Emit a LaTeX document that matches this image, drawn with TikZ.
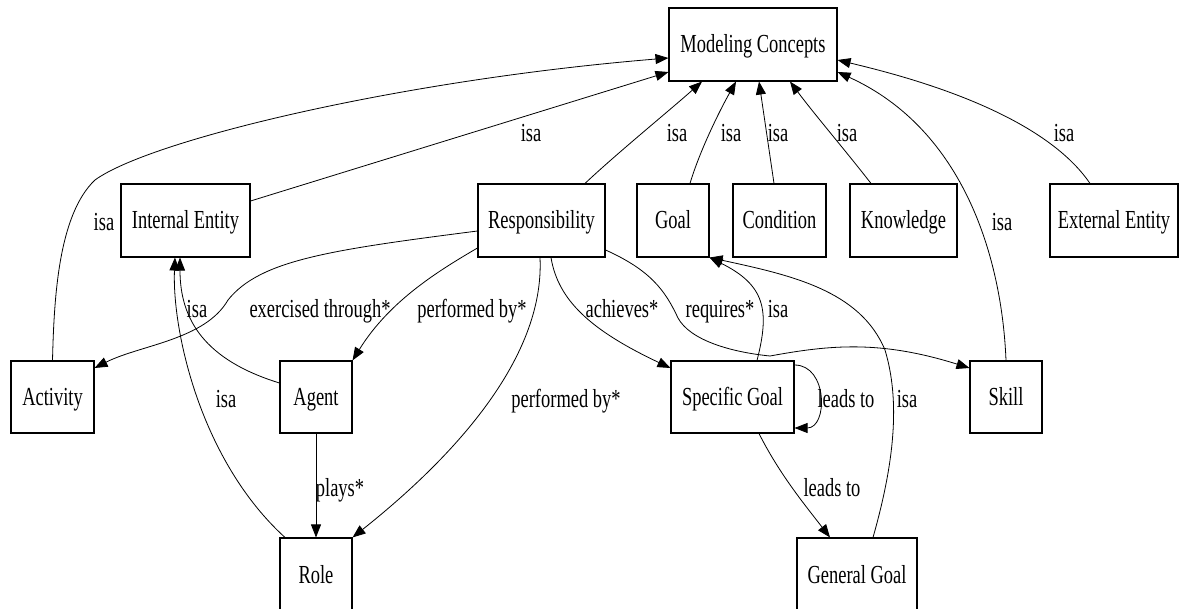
\documentclass[tikz,border=0pt]{standalone}
\usepackage{fontspec}
\setmainfont{Liberation Serif}[FakeStretch=0.71]
\usetikzlibrary{arrows.meta}

\begin{document}
\begin{tikzpicture}[x=1pt,y=-1pt,
  concept/.style={draw, line width=1.1pt, rectangle, inner sep=0pt,
    minimum height=73pt, text height=20pt, text depth=3pt,
    font=\fontsize{26}{28}\selectfont},
  lbl/.style={anchor=base, inner sep=0pt, font=\fontsize{26}{28}\selectfont},
  rel/.style={line width=0.8pt, -{Triangle[length=13pt,width=10pt]}},
]
\useasboundingbox (0,0) rectangle (1183,609);
\fill[white] (0,0) rectangle (1183,609);

% concepts
\node[concept, minimum width=168pt] (mc)    at (753,44.5)   {Modeling Concepts};
\node[concept, minimum width=129pt] (ie)    at (185.5,220.5) {Internal Entity};
\node[concept, minimum width=127pt] (resp)  at (541.5,220.5) {Responsibility};
\node[concept, minimum width=72pt]  (goal)  at (673,220.5)   {Goal};
\node[concept, minimum width=93pt]  (cond)  at (779.5,220.5) {Condition};
\node[concept, minimum width=107pt] (know)  at (903.5,220.5) {Knowledge};
\node[concept, minimum width=128pt] (ee)    at (1114,220.5)  {External Entity};
\node[concept, minimum width=83pt, minimum height=72pt] (act) at (52.5,397) {Activity};
\node[concept, minimum width=72pt, minimum height=72pt]  (agent) at (316,397) {Agent};
\node[concept, minimum width=123pt, minimum height=72pt] (sg) at (732.5,397) {Specific Goal};
\node[concept, minimum width=72pt, minimum height=72pt]  (skill) at (1006,397) {Skill};
\node[concept, minimum width=72pt]  (role)  at (316,574.5)   {Role};
\node[concept, minimum width=120pt] (gg)    at (857,574.5)   {General Goal};

% isa links to Modeling Concepts
\draw[rel] (act.north) .. controls (54,300) and (58,215) .. (95,180)
           .. controls (150,140) and (400,80) .. (mc.west |- 0,58);
\draw[rel] (ie.east |- 0,201) -- (mc.west |- 0,72);
\draw[rel] (resp.north -| 585,0) .. controls (615,155) and (670,110) .. (mc.south -| 702,0);
\draw[rel] (goal.north -| 690,0) .. controls (700,150) and (720,110) .. (mc.south -| 736,0);
\draw[rel] (cond.north -| 774,0) -- (mc.south -| 759,0);
\draw[rel] (know.north -| 871,0) .. controls (845,150) and (815,115) .. (mc.south -| 790,0);
\draw[rel] (ee.north -| 1090,0) .. controls (1040,110) and (900,75) .. (mc.east |- 0,60);
\draw[rel] (skill.north) .. controls (1002,260) and (965,130) .. (mc.east |- 0,72);

% isa links to Internal Entity
\draw[rel] (agent.west |- 0,383) .. controls (205,360) and (180,320) .. (ie.south -| 180,0);
\draw[rel] (role.north -| 285,0) .. controls (200,460) and (172,330) .. (ie.south -| 175,0);

% responsibility relations
\draw[rel] (resp.west |- 0,231) .. controls (330,250) and (260,260) .. (228,300)
           .. controls (205,340) and (140,345) .. (act.east |- 0,368);
\draw[rel] (resp.west |- 0,248) .. controls (440,270) and (390,300) .. (agent.north east);
\draw[rel] (resp.south -| 540,0) .. controls (545,360) and (450,460) .. (role.north east);
\draw[rel] (resp.south -| 551,0) .. controls (558,300) and (590,330) .. (sg.west |- 0,368);
\draw[rel] (resp.east |- 0,250) .. controls (650,270) and (665,290) .. (678,318)
           .. controls (690,340) and (730,352) .. (770,356)
           .. controls (830,345) and (880,340) .. (skill.west |- 0,368);

% goal relations
\draw[rel] (sg.north -| 757,0) .. controls (770,310) and (765,285) .. (goal.south east);
\draw[rel] (gg.north -| 873,0) .. controls (895,460) and (900,400) .. (885,350)
           .. controls (860,290) and (790,275) .. (goal.south east);
\draw[rel] (sg.east |- 0,365) .. controls (828,365) and (828,428) .. (sg.east |- 0,428);
\draw[rel] (sg.south -| 759,0) .. controls (780,475) and (805,505) .. (gg.north -| 830,0);

% agent plays role
\draw[rel] (agent) -- (role);

% labels
\node[lbl] (l1)  at (104,231)  {isa};
\node[lbl] (l2)  at (531,142)  {isa};
\node[lbl] (l3)  at (677,142)  {isa};
\node[lbl] (l4)  at (731,142)  {isa};
\node[lbl] (l5)  at (778,142)  {isa};
\node[lbl] (l6)  at (847,142)  {isa};
\node[lbl] (l7)  at (1064,142) {isa};
\node[lbl] (l8)  at (1002,231) {isa};
\node[lbl] (l9)  at (197,318)  {isa};
\node[lbl] (l10) at (320,318)  {exercised through*};
\node[lbl] (l11) at (472,318)  {performed by*};
\node[lbl] (l12) at (622,318)  {achieves*};
\node[lbl] (l13) at (720,318)  {requires*};
\node[lbl] (l14) at (778,318)  {isa};
\node[lbl] (l15) at (226,407)  {isa};
\node[lbl] (l16) at (566,407)  {performed by*};
\node[lbl] (l17) at (846,407)  {leads to};
\node[lbl] (l18) at (907,407)  {isa};
\node[lbl] (l19) at (340,496)  {plays*};
\node[lbl] (l20) at (832,496)  {leads to};
\end{tikzpicture}
\end{document}
